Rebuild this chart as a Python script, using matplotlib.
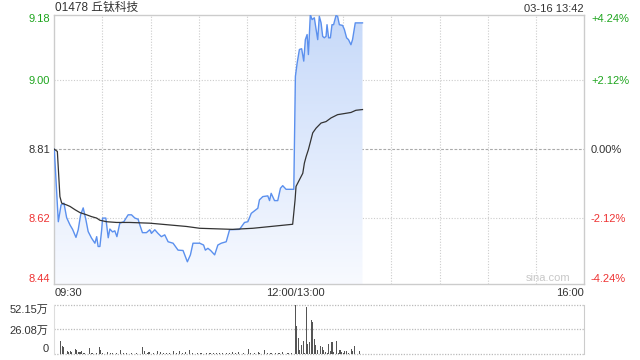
import matplotlib
matplotlib.use("Agg")
import matplotlib.pyplot as plt
import numpy as np
from matplotlib.colors import LinearSegmentedColormap

plt.rcParams["font.family"] = ["Liberation Sans", "Noto Sans CJK SC", "DejaVu Sans"]

TITLE = "01478 丘钛科技"
STAMP = "03-16 13:42"
PREV_CLOSE = 8.81

# trading minutes after 09:30 (lunch break removed, 13:00 = 150, 16:00 = 330)
price_min = [0, 2.5, 4.2, 6.0, 7.7, 9.8, 11.4, 13.5, 14.9, 16.4, 18.0, 19.7, 21.1, 23.2,
             25.3, 26.4, 27.3, 28.4, 29.5, 30.1, 32.1, 33.6, 34.6, 36.3, 37.7, 39.0, 40.8,
             43.3, 46.0, 48.1, 50.2, 52.2, 53.3, 54.9, 57.4, 59.5, 60.5, 62.6, 64.6, 66.7,
             68.8, 70.9, 74.0, 77.1, 80.2, 82.9, 84.8, 86.4, 90.6, 93.0, 94.1, 95.7, 97.4,
             99.9, 101.9, 104.0, 107.1, 109.2, 115.4, 118.5, 120.6, 122.7, 126.8, 127.8,
             129.9, 133.0, 134.1, 135.1, 137.2, 139.2, 140.9, 142.3, 144.4, 149.2, 150.2,
             151.3, 152.7, 154.1, 155.4, 156.4, 157.5, 158.3, 159.5, 160.6, 162.0, 163.1,
             164.1, 165.1, 166.2, 167.2, 168.2, 169.3, 169.9, 170.9, 172.0, 173.0, 174.0,
             174.4, 175.5, 176.5, 177.6, 179.6, 180.7, 182.1, 183.3, 184.8, 185.8, 187.5,
             191.0, 192.0]
price = [8.81, 8.611, 8.657, 8.662, 8.622, 8.602, 8.590, 8.568, 8.589, 8.630, 8.649, 8.616,
         8.584, 8.566, 8.552, 8.570, 8.543, 8.543, 8.588, 8.621, 8.621, 8.567, 8.591, 8.583,
         8.586, 8.570, 8.607, 8.611, 8.630, 8.630, 8.621, 8.618, 8.602, 8.581, 8.581, 8.589,
         8.579, 8.589, 8.579, 8.570, 8.575, 8.556, 8.552, 8.533, 8.532, 8.501, 8.520, 8.552,
         8.552, 8.547, 8.533, 8.538, 8.532, 8.520, 8.547, 8.552, 8.556, 8.589, 8.590, 8.609,
         8.611, 8.634, 8.648, 8.671, 8.680, 8.682, 8.669, 8.689, 8.669, 8.669, 8.703, 8.710,
         8.700, 8.700, 9.010, 9.047, 9.084, 9.086, 9.052, 9.111, 9.125, 9.070, 9.180, 9.166,
         9.171, 9.139, 9.111, 9.175, 9.157, 9.120, 9.116, 9.120, 9.152, 9.116, 9.116, 9.152,
         9.152, 9.159, 9.177, 9.175, 9.152, 9.150, 9.139, 9.116, 9.111, 9.097, 9.111, 9.157,
         9.157, 9.157]

avg_min = [0, 1.9, 3.5, 4.6, 7.7, 9.8, 12.9, 16.0, 20.1, 23.2, 26.4, 28.4, 32.6, 38.8, 47.0,
           59.5, 82.3, 90.6, 111.2, 123.7, 148.5, 150.0, 150.6, 152.7, 154.8, 155.8, 156.9,
           158.3, 159.6, 161.0, 163.1, 166.2, 169.3, 172.4, 176.5, 180.7, 184.8, 187.9, 192.0]
avg_price = [8.81, 8.804, 8.680, 8.662, 8.657, 8.653, 8.644, 8.636, 8.630, 8.625, 8.621,
             8.615, 8.611, 8.609, 8.609, 8.607, 8.598, 8.593, 8.590, 8.593, 8.604, 8.671,
             8.708, 8.726, 8.744, 8.772, 8.790, 8.809, 8.831, 8.855, 8.868, 8.882, 8.886,
             8.896, 8.905, 8.908, 8.911, 8.917, 8.919]

# volume, in 万 shares
vol_min = [4, 5, 6, 8, 9, 10, 11, 13, 14, 15, 16, 17, 18, 19, 22, 23, 24, 26, 28, 29, 30, 33,
           35, 36, 39, 41, 43, 45, 48, 51, 55, 56, 58, 59, 62, 64, 66, 68, 70, 72, 74, 76, 78,
           80, 82, 84, 86, 89, 91, 92, 95, 97, 99, 101, 103, 105, 107, 109, 111, 113, 115,
           118, 121, 122, 125, 127, 128, 131, 133, 135, 138, 140, 142, 145, 146, 148,
           150, 151, 152, 153, 154, 155, 156, 157, 158, 159, 160, 161, 162, 163, 164, 166,
           167, 168, 169, 170, 171, 172, 173, 174, 176, 177, 178, 179, 180, 181, 182, 183,
           185, 186, 187, 189, 190, 191]
vol_wan = [14.0, 9.0, 7.0, 3.5, 2.0, 3.0, 2.5, 5.5, 4.0, 2.5, 2.0, 3.0, 1.5, 1.5, 6.3, 1.5,
           1.0, 1.5, 7.0, 4.0, 1.0, 2.0, 1.0, 1.5, 1.0, 4.5, 1.0, 1.5, 1.0, 1.0, 7.7, 3.0, 1.5,
           2.0, 1.0, 3.0, 2.0, 1.5, 1.5, 1.0, 3.5, 1.0, 3.5, 1.5, 2.0, 4.0, 1.5, 1.0, 1.5, 1.0,
           1.5, 1.0, 1.5, 1.0, 1.5, 1.0, 1.5, 1.0, 2.0, 1.0, 2.0, 1.0, 5.3, 1.5, 1.5, 2.0, 1.0,
           4.0, 1.5, 1.0, 1.5, 1.0, 2.0, 1.5, 1.0, 1.5,
           52.15, 29.3, 17.0, 4.5, 9.8, 14.3, 1.0, 49.7, 10.9, 12.3, 36.3, 34.5, 15.9, 9.8,
           4.5, 8.8, 7.0, 4.5, 2.5, 1.5, 10.9, 3.5, 12.3, 2.5, 13.4, 1.5, 4.5, 2.5, 1.0, 3.5,
           3.5, 1.5, 5.0, 3.5, 8.0, 0.5, 3.5, 0.5]

price_ticks = [8.44, 8.62, 8.81, 9.00, 9.18]
price_labels = ["8.44", "8.62", "8.81", "9.00", "9.18"]
pct_labels = ["-4.24%", "-2.12%", "0.00%", "+2.12%", "+4.24%"]
vol_ticks = [0, 26.08, 52.15]
vol_labels = ["0", "26.08万", "52.15万"]
time_ticks = [0, 150, 330]
time_labels = ["09:30", "12:00/13:00", "16:00"]

UP = "#1ea51e"
DOWN = "#ee3333"
FLAT = "#333333"
GRID = "#cccccc"


def tick_color(v):
    if v > PREV_CLOSE:
        return UP
    if v < PREV_CLOSE:
        return DOWN
    return FLAT


fig = plt.figure(figsize=(6.4, 3.6), dpi=100)
ax = fig.add_axes([54.3 / 640, 1 - 284 / 360, (584 - 54.3) / 640, (284 - 14.5) / 360])
axv = fig.add_axes([54.3 / 640, 1 - 354 / 360, (584 - 54.3) / 640, (354 - 305) / 360])

ymin, ymax = price_ticks[0], price_ticks[-1]

# gradient area under the price line
poly = ax.fill_between(price_min, price, ymin, facecolor="none", edgecolor="none")
cmap = LinearSegmentedColormap.from_list("area", ["#f8faff", "#c6d9f9"])
grad = np.linspace(0, 1, 256).reshape(-1, 1)
im = ax.imshow(grad, cmap=cmap, aspect="auto", origin="lower",
               extent=[0, 330, ymin, ymax], zorder=1)
im.set_clip_path(poly.get_paths()[0], transform=ax.transData)

ax.plot(price_min, price, color="#5b90ee", lw=1.0, zorder=3)
ax.plot(avg_min, avg_price, color="#333333", lw=0.9, zorder=3)

ax.set_xlim(0, 330)
ax.set_ylim(ymin, ymax)

# grid
for t in range(30, 330, 30):
    ax.axvline(t, color=GRID, lw=0.8, ls=(0, (1, 1.5)), zorder=0)
for v in price_ticks[1:-1]:
    if v == PREV_CLOSE:
        ax.axhline(v, color="#aaaaaa", lw=0.8, ls=(0, (2.5, 1.5)), zorder=0)
    else:
        ax.axhline(v, color=GRID, lw=0.8, ls=(0, (1, 1.5)), zorder=0)

for s in ax.spines.values():
    s.set_color(GRID)
    s.set_linewidth(1.0)

ax.set_yticks(price_ticks)
ax.set_yticklabels(price_labels, fontsize=8)
ax.tick_params(axis="y", length=0, pad=3)
for lab, v in zip(ax.get_yticklabels(), price_ticks):
    lab.set_color(tick_color(v))
ax.get_yticklabels()[0].set_va("bottom")
ax.get_yticklabels()[-1].set_va("top")

ax.set_xticks(time_ticks)
ax.set_xticklabels(time_labels, fontsize=8, color="#333333")
ax.tick_params(axis="x", length=0, pad=3)
for lab, ha in zip(ax.get_xticklabels(), ["left", "center", "right"]):
    lab.set_ha(ha)

ax2 = ax.twinx()
ax2.set_ylim(ymin, ymax)
ax2.set_yticks(price_ticks)
ax2.set_yticklabels(pct_labels, fontsize=8)
ax2.tick_params(axis="y", length=0, pad=5)
for lab, v in zip(ax2.get_yticklabels(), price_ticks):
    lab.set_color(tick_color(v))
ax2.get_yticklabels()[0].set_va("bottom")
ax2.get_yticklabels()[-1].set_va("top")
for s in ax2.spines.values():
    s.set_visible(False)

ax.text(0.975, 0.005, "sina.com", transform=ax.transAxes, ha="right", va="bottom",
        fontsize=8, color="#c8c8c8")

fig.text(55 / 640, 1 - 13.5 / 360, TITLE, fontsize=8.5, color="#333333", va="bottom")
fig.text(584 / 640, 1 - 13.5 / 360, STAMP, fontsize=8, color="#333333", va="bottom", ha="right")

# volume panel
axv.bar(vol_min, vol_wan, width=0.65, color="#555555", zorder=2)
axv.set_xlim(0, 330)
axv.set_ylim(0, vol_ticks[-1])
for v in vol_ticks:
    axv.axhline(v, color="#bbbbbb", lw=0.9, ls=(0, (1, 1.2)), zorder=0, clip_on=False)
for side in ("top", "bottom"):
    axv.spines[side].set_visible(False)
axv.spines["left"].set_color("#dddddd")
axv.spines["right"].set_color(GRID)
axv.set_xticks([])
axv.set_yticks(vol_ticks)
axv.set_yticklabels(vol_labels, fontsize=8, color="#333333")
axv.tick_params(axis="y", length=0, pad=4)
axv.get_yticklabels()[0].set_va("bottom")
axv.get_yticklabels()[-1].set_va("top")

fig.savefig("out.png", dpi=100)
plt.close(fig)
